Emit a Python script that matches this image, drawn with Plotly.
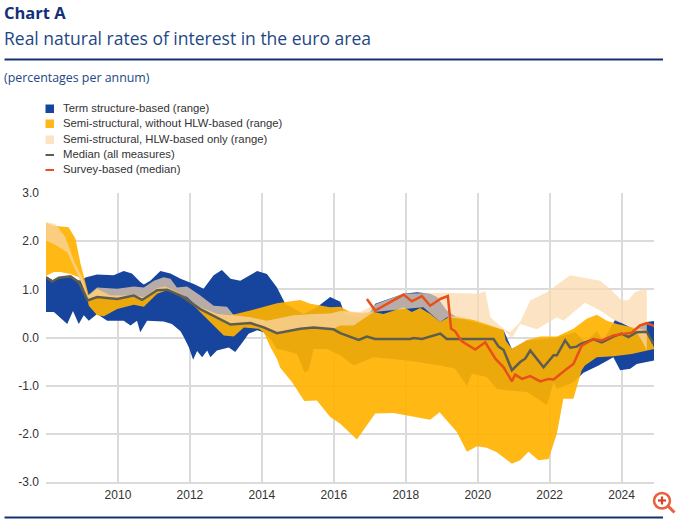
import plotly.graph_objects as go

blue_up_x = [2008.0,2008.22,2008.40,2008.68,2008.91,2009.12,2009.42,2009.88,2010.16,2010.39,2010.62,2010.72,2010.90,2011.18,2011.46,2011.74,2012.11,2012.38,2012.66,2012.89,2013.13,2013.40,2013.87,2014.14,2014.42,2014.65,2015.16,2015.53,2015.90,2016.18,2016.30,2016.74,2017.01,2017.15,2017.94,2018.31,2018.68,2018.87,2019.14,2019.42,2020.25,2020.72,2020.95,2021.37,2022.20,2022.71,2022.99,2023.31,2023.49,2023.82,2024.33,2024.70,2024.90]
blue_up_y = [1.27,1.18,1.25,1.25,1.18,1.25,1.31,1.29,1.38,1.33,1.15,1.10,1.18,1.38,1.33,1.22,1.11,1.01,1.29,1.40,1.22,1.18,1.38,1.32,1.04,0.70,0.49,0.63,0.84,0.74,0.49,0.42,0.53,0.70,0.91,0.94,0.91,0.84,0.56,0.42,0.25,0.15,-0.24,-0.06,0.00,0.11,-0.10,0.13,-0.06,0.37,0.18,0.32,0.34]
blue_lo_x = [2008.0,2008.22,2008.59,2008.75,2008.91,2009.05,2009.19,2009.42,2009.70,2010.16,2010.35,2010.53,2010.62,2010.81,2011.27,2011.50,2011.74,2011.83,2011.97,2012.09,2012.20,2012.34,2012.48,2012.57,2012.75,2013.08,2013.26,2013.50,2013.63,2013.87,2014.05,2014.24,2014.42,2014.65,2014.98,2015.18,2015.30,2015.44,2015.81,2016.18,2016.55,2017.11,2018.03,2018.96,2019.37,2019.70,2019.84,2020.25,2020.53,2021.00,2021.37,2021.74,2021.92,2022.11,2022.20,2022.66,2022.94,2023.36,2023.77,2023.96,2024.24,2024.42,2024.90]
blue_lo_y = [0.53,0.53,0.28,0.55,0.28,0.46,0.35,0.49,0.35,0.35,0.25,0.35,0.11,0.35,0.33,0.28,0.13,0.01,-0.20,-0.46,-0.28,-0.41,-0.27,-0.41,-0.27,-0.21,-0.30,-0.06,0.08,0.15,0.11,-0.03,-0.24,-0.27,-0.34,-0.72,-0.68,-0.24,-0.24,-0.37,-0.58,-0.41,-0.48,-0.58,-0.65,-1.00,-0.75,-0.82,-1.07,-1.11,-1.13,-1.31,-1.41,-0.93,-1.07,-0.93,-0.73,-0.58,-0.41,-0.68,-0.65,-0.55,-0.48]

yellow_up_x = [2008.0,2008.22,2008.63,2008.82,2008.96,2009.10,2009.19,2009.42,2009.79,2010.44,2010.72,2011.09,2011.32,2011.74,2012.20,2012.76,2013.13,2013.68,2014.42,2015.07,2015.35,2015.90,2016.18,2016.46,2016.74,2017.11,2017.38,2017.94,2018.17,2018.40,2018.68,2018.96,2019.19,2019.42,2019.88,2020.25,2020.72,2020.78,2020.95,2021.37,2021.74,2022.20,2022.66,2023.03,2023.31,2023.59,2023.87,2024.33,2024.70,2024.90]
yellow_up_y = [2.39,2.32,2.29,2.05,1.53,1.11,0.87,1.01,0.87,0.87,0.84,1.03,1.06,0.91,0.66,0.49,0.46,0.56,0.71,0.78,0.70,0.63,0.64,0.53,0.51,0.53,0.49,0.63,0.53,0.61,0.49,0.32,0.42,0.44,0.37,0.28,0.16,-0.06,-0.24,-0.05,0.02,0.02,0.18,0.39,0.47,0.35,0.28,0.21,0.15,-0.21]
yellow_lo_x = [2008.0,2008.22,2008.40,2008.68,2008.91,2009.12,2009.19,2009.42,2009.61,2009.98,2010.44,2010.72,2011.09,2011.37,2011.92,2012.29,2012.66,2012.94,2013.22,2013.50,2013.91,2014.05,2014.24,2014.42,2014.51,2014.84,2015.18,2015.53,2015.90,2016.18,2016.64,2017.15,2017.66,2018.68,2018.94,2019.42,2019.70,2019.98,2020.25,2020.53,2020.95,2021.18,2021.41,2021.69,2021.97,2022.20,2022.38,2022.66,2022.89,2022.98,2023.31,2023.77,2024.28,2024.90]
yellow_lo_y = [1.28,1.36,1.36,1.32,1.25,0.91,0.66,0.46,0.44,0.59,0.68,0.64,0.91,0.98,0.80,0.53,0.25,0.04,0.02,0.21,0.18,0.11,-0.20,-0.44,-0.63,-0.93,-1.32,-1.31,-1.65,-1.79,-2.12,-1.58,-1.57,-1.71,-1.55,-1.96,-2.37,-2.26,-2.29,-2.38,-2.62,-2.55,-2.37,-2.55,-2.52,-2.00,-1.27,-1.27,-0.68,-0.58,-0.41,-0.39,-0.34,-0.24]

light_up_x = [2008.0,2008.26,2008.54,2008.77,2009.05,2009.16,2009.42,2009.98,2010.44,2010.72,2011.00,2011.27,2011.46,2011.64,2011.92,2012.29,2012.66,2013.03,2013.22,2013.68,2014.14,2014.88,2015.44,2015.90,2016.18,2016.74,2017.20,2017.94,2018.96,2019.70,2020.02,2020.21,2020.35,2020.72,2020.90,2021.18,2021.46,2021.92,2022.57,2023.40,2023.68,2024.00,2024.19,2024.37,2024.70]
light_up_y = [2.39,2.36,2.08,1.60,1.18,0.87,1.04,1.01,1.06,1.04,1.18,1.25,1.22,1.04,1.06,0.87,0.66,0.64,0.46,0.42,0.35,0.46,0.49,0.50,0.55,0.53,0.70,0.91,0.93,0.91,0.91,0.96,0.42,0.18,0.11,0.32,0.77,0.94,1.29,1.18,1.01,0.77,0.78,0.94,1.03]
light_lo_x = [2008.0,2008.22,2008.59,2009.00,2009.16,2009.42,2009.98,2010.44,2010.67,2011.09,2011.37,2011.92,2012.29,2013.13,2013.68,2014.05,2014.42,2015.07,2015.99,2016.18,2016.55,2017.11,2017.94,2018.49,2018.96,2019.14,2019.88,2020.72,2020.95,2021.18,2021.64,2022.20,2022.38,2022.98,2023.40,2023.82,2024.33,2024.56,2024.70]
light_lo_y = [2.01,1.94,1.77,1.11,0.77,0.82,0.80,0.84,0.78,0.95,1.00,0.84,0.59,0.27,0.32,0.24,0.11,0.18,0.18,0.25,0.25,0.53,0.59,0.63,0.32,0.42,0.37,0.16,-0.01,0.28,0.17,0.42,0.35,0.72,0.56,0.35,0.21,-0.06,-0.27]

median_x = [2008.0,2008.17,2008.36,2008.68,2008.91,2009.16,2009.42,2009.98,2010.44,2010.67,2011.09,2011.37,2011.74,2012.29,2013.13,2013.68,2014.05,2014.42,2015.07,2015.44,2015.99,2016.18,2016.69,2016.92,2017.15,2018.12,2018.22,2018.45,2018.96,2019.14,2020.44,2020.58,2020.72,2020.95,2021.18,2021.32,2021.46,2021.83,2022.11,2022.20,2022.43,2022.57,2022.75,2022.87,2023.22,2023.45,2023.77,2024.00,2024.19,2024.42,2024.70,2024.88]
median_y = [1.25,1.16,1.24,1.27,1.15,0.77,0.84,0.80,0.87,0.78,0.98,0.99,0.87,0.59,0.27,0.30,0.21,0.09,0.18,0.21,0.17,0.09,-0.05,0.02,-0.03,-0.03,-0.01,-0.03,0.08,-0.03,-0.03,-0.19,-0.26,-0.68,-0.51,-0.44,-0.27,-0.62,-0.37,-0.37,-0.06,-0.21,-0.19,-0.13,-0.04,-0.10,0.02,0.08,0.01,0.11,0.12,-0.13]

survey_x = [2016.92,2017.15,2017.94,2018.17,2018.45,2018.68,2018.96,2019.17,2019.26,2019.37,2019.56,2019.93,2020.21,2020.49,2020.72,2020.95,2021.04,2021.23,2021.46,2021.74,2021.97,2022.11,2022.48,2022.66,2022.89,2023.22,2023.45,2023.77,2024.28,2024.51,2024.70,2024.93]
survey_y = [0.80,0.56,0.89,0.75,0.86,0.66,0.80,0.86,0.18,0.13,-0.08,-0.25,-0.10,-0.44,-0.62,-0.91,-0.77,-0.86,-0.80,-0.91,-0.86,-0.87,-0.65,-0.55,-0.17,-0.03,-0.06,0.04,0.10,0.25,0.30,0.23]

legend_labels = ["Term structure-based (range)", "Semi-structural, without HLW-based (range)",
                 "Semi-structural, HLW-based only (range)", "Median (all measures)", "Survey-based (median)"]
y_ticks = [3, 2, 1, 0, -1, -2, -3]
y_tick_labels = ["3.0", "2.0", "1.0", "0.0", "-1.0", "-2.0", "-3.0"]
x_ticks = [2010, 2012, 2014, 2016, 2018, 2020, 2022, 2024]

W, H = 680, 520
L, R, T, B = 45.5, 654, 193, 482
BLUE = "#17449C"
YELLOW = "rgba(255,178,0,0.92)"
LIGHT = "rgba(249,215,172,0.71)"
GREY = "#5E5D50"
ORANGE = "#E8501A"
NAVY = "#14326E"
TITLE_BLUE = "#1E4785"
px = lambda v: (v - L) / (R - L)
py = lambda v: (B - v) / (B - T)

fig = go.Figure()
def band(xu, yu, xl, yl, color, name):
    fig.add_trace(go.Scatter(x=list(xu) + list(xl)[::-1], y=list(yu) + list(yl)[::-1], fill="toself",
                             fillcolor=color, mode="lines", line=dict(width=0), name=name, hoverinfo="skip"))
band(blue_up_x, blue_up_y, blue_lo_x, blue_lo_y, BLUE, legend_labels[0])
band(yellow_up_x, yellow_up_y, yellow_lo_x, yellow_lo_y, YELLOW, legend_labels[1])
band(light_up_x, light_up_y, light_lo_x, light_lo_y, LIGHT, legend_labels[2])
fig.add_trace(go.Scatter(x=median_x, y=median_y, mode="lines", line=dict(color=GREY, width=2.5), name=legend_labels[3]))
fig.add_trace(go.Scatter(x=survey_x, y=survey_y, mode="lines", line=dict(color=ORANGE, width=2.5), name=legend_labels[4]))

def pline(x0, y0, x1, y1, color, width):
    return dict(type="line", xref="paper", yref="paper", x0=px(x0), x1=px(x1), y0=py(y0), y1=py(y1), line=dict(color=color, width=width))
shapes = [pline(4, 59.5, 663, 59.5, NAVY, 2), pline(4, 517.5, 663, 517.5, NAVY, 2)]
annotations = []
def text(x, y, s, size, color, family="Open Sans", bold=False):
    annotations.append(dict(xref="paper", yref="paper", x=px(x), y=py(y), xanchor="left", yanchor="middle", showarrow=False,
                            text=f"<b>{s}</b>" if bold else s, font=dict(size=size, color=color, family=family)))
text(1, 12, "Chart A", 16.5, "#12307A", bold=True)
text(1, 38, "Real natural rates of interest in the euro area", 17.5, TITLE_BLUE)
text(1, 78, "(percentages per annum)", 12.4, TITLE_BLUE)

rows = [108, 123, 139, 154, 169]
for i, (r, lab) in enumerate(zip(rows, legend_labels)):
    text(60.5, r, lab, 11.3, "#333333", "Liberation Sans")
    if i < 3:
        c = [BLUE, "#FFB71A", "#FBE3C4"][i]
        shapes.append(dict(type="rect", xref="paper", yref="paper", x0=px(45), x1=px(53.5), y0=py(r - 3.5), y1=py(r + 5),
                           fillcolor=c, line=dict(width=0)))
    else:
        shapes.append(pline(45, r + 1, 53.5, r + 1, [GREY, ORANGE][i - 3], 2))

# magnifier icon in the corner
ICON = "#E8603C"
shapes.append(dict(type="circle", xref="paper", yref="paper", x0=px(654), x1=px(670), y0=py(493), y1=py(508.5),
                   line=dict(color=ICON, width=2.5)))
shapes += [pline(668, 506, 674.5, 512.5, ICON, 3), pline(658, 500.5, 666, 500.5, "#D8402A", 2.2), pline(662, 496.5, 662, 504.5, "#D8402A", 2.2)]

fig.update_layout(
    width=W, height=H, margin=dict(l=L, r=W - R, t=T, b=H - B, pad=0), paper_bgcolor="white", plot_bgcolor="white",
    showlegend=False, shapes=shapes, annotations=annotations, font=dict(family="Liberation Sans", size=12, color="#333333"),
    xaxis=dict(range=[2008, 2024.9], tickvals=[2008] + x_ticks, ticktext=[""] + [str(t) for t in x_ticks], showgrid=True,
               gridcolor="#DBDBDB", gridwidth=1.5, zeroline=False, showline=True, linecolor="#DBDBDB", linewidth=1.5, ticks="",
               ticklabelstandoff=1),
    yaxis=dict(range=[-3, 3], tickvals=y_ticks, ticktext=y_tick_labels, showgrid=True, gridcolor="#DBDBDB", gridwidth=1.5,
               zeroline=False, showline=False, ticks="", ticklabelstandoff=6),
)
fig.write_html("out.html", config=dict(displayModeBar=False),
               post_script="document.body.style.margin='0';")
